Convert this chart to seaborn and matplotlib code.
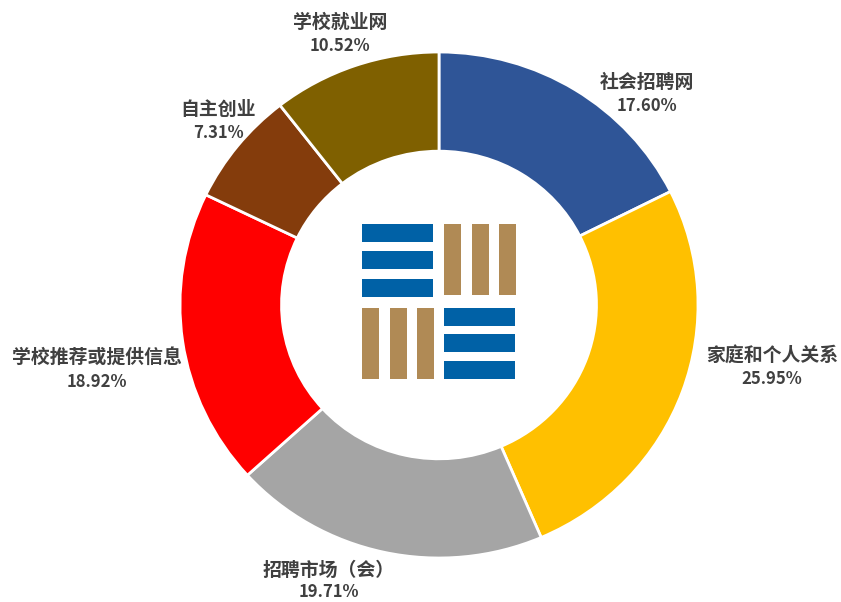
import matplotlib
matplotlib.use('Agg')
import matplotlib.pyplot as plt
import seaborn as sns
from matplotlib.patches import Rectangle

sns.set_theme(style='white')
plt.rcParams['font.family'] = ['Noto Sans CJK SC', 'DejaVu Sans']

labels = ['社会招聘网', '家庭和个人关系', '招聘市场（会）', '学校推荐或提供信息', '自主创业', '学校就业网']
values = [17.60, 25.95, 19.71, 18.92, 7.31, 10.52]
pct_text = ['17.60%', '25.95%', '19.71%', '18.92%', '7.31%', '10.52%']
colors = ['#2F5597', '#FFC000', '#A5A5A5', '#FF0000', '#843C0C', '#7F6000']
# label centre x, name y, percent y (pixels from the top)
label_pos = [(647, 82, 106), (772, 355, 379), (329, 570, 592), (97, 357, 382), (218, 109, 133), (340, 22, 46)]

W, H = 841, 602
fig = plt.figure(figsize=(W / 100, H / 100), dpi=100)

# the ring is a bit wider than tall, so it gets its own axes
left, right, top, bottom = 180, 698, 52, 558
ax_pie = fig.add_axes([left / W, 1 - bottom / H, (right - left) / W, (bottom - top) / H])
ax_pie.pie(values, colors=colors, startangle=90, counterclock=False, radius=1,
           wedgeprops=dict(width=0.392, edgecolor='white', linewidth=2, clip_on=False))
ax_pie.set_xlim(-1, 1)
ax_pie.set_ylim(-1, 1)
ax_pie.set_aspect('auto')
ax_pie.axis('off')

# overlay in pixel coordinates for icon and labels
ax = fig.add_axes([0, 0, 1, 1])
ax.set_xlim(0, W)
ax.set_ylim(H, 0)
ax.axis('off')
ax.patch.set_alpha(0)

# icon in the middle
blue = '#0061A6'
brown = '#B08A55'
for y in [224, 251, 279]:
    ax.add_patch(Rectangle((362, y), 71, 18, color=blue, lw=0))
for y in [308, 334, 361]:
    ax.add_patch(Rectangle((444, y), 71, 18, color=blue, lw=0))
for x in [444, 472, 499]:
    ax.add_patch(Rectangle((x, 224), 17, 71, color=brown, lw=0))
for x in [362, 390, 417]:
    ax.add_patch(Rectangle((x, 308), 17, 71, color=brown, lw=0))

for name, pct, (x, y1, y2) in zip(labels, pct_text, label_pos):
    ax.text(x, y1, name, ha='center', va='center', fontsize=13.6, fontweight='bold', color='#404040')
    ax.text(x, y2, pct, ha='center', va='center', fontsize=12, fontweight='bold', color='#404040')

fig.savefig('out.png', dpi=100)
